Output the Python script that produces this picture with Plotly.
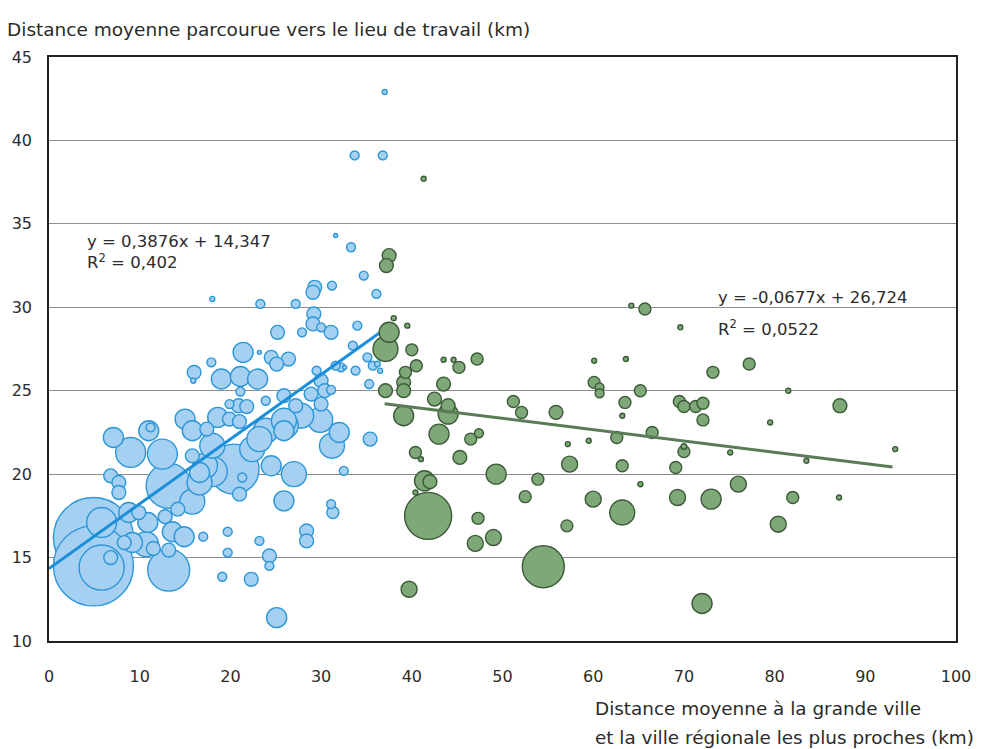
import plotly.graph_objects as go

# Communes reliées à une grande ville (bleu) : distance moyenne à la grande ville /
# ville régionale (km), distance moyenne domicile-travail (km), actifs (milliers)
blue_x = [37.0, 33.7, 36.8, 31.6, 33.3, 34.7, 31.2, 29.3, 29.1, 36.1, 18.0, 23.3, 27.2, 29.2, 29.1,
          34.0, 30.0, 25.2, 27.9, 31.1, 33.5, 21.4, 23.2, 24.5, 26.4, 25.1, 16.0, 15.9, 17.9, 19.0,
          21.1, 23.0, 21.1, 23.9, 20.9, 21.8, 19.9, 25.9, 27.2, 28.9, 30.0, 29.5, 31.1, 30.0, 32.2,
          33.8, 35.1, 35.7, 35.3, 35.4, 32.5, 31.1, 31.3, 28.4, 28.4, 25.9, 27.0, 24.5, 32.0, 31.2,
          29.9, 27.8, 26.1, 23.9, 22.4, 20.4, 17.2, 21.0, 21.3, 13.2, 12.5, 9.0, 7.1, 11.0, 11.2,
          15.0, 15.8, 17.4, 18.6, 19.9, 15.8, 15.8, 14.2, 18.0, 16.6, 6.8, 7.7, 7.7, 8.8, 9.9,
          10.9, 12.8, 13.6, 14.9, 10.7, 9.2, 8.3, 11.5, 13.2, 13.2, 17.0, 19.7, 19.7, 19.1, 22.3,
          23.2, 24.3, 24.3, 25.1, 5.8, 5.8, 6.8, 4.9, 4.9, 21.0, 25.9, 23.2, 25.9, 16.6, 18.0,
          30.4, 32.6, 36.2, 36.5, 31.6]
blue_y = [42.9, 39.1, 39.1, 34.3, 33.6, 31.9, 31.3, 31.2, 30.9, 30.8, 30.5, 30.2, 30.2, 29.6, 29.0,
          28.9, 28.8, 28.5, 28.5, 28.5, 27.7, 27.3, 27.3, 27.0, 26.9, 26.6, 26.1, 25.6, 26.7, 25.7,
          25.85, 25.7, 24.95, 24.4, 24.1, 24.05, 24.2, 24.7, 24.1, 24.8, 25.6, 26.2, 25.05, 24.2, 26.4,
          26.2, 27.0, 26.5, 25.4, 22.1, 20.2, 18.2, 17.7, 16.6, 16.0, 18.4, 20.0, 20.5, 22.5, 21.7,
          23.25, 23.5, 22.9, 22.6, 21.5, 20.3, 20.5, 18.8, 19.8, 19.3, 21.2, 21.3, 22.2, 22.6, 22.8,
          23.3, 22.6, 22.7, 23.4, 23.3, 21.1, 18.35, 17.9, 20.15, 19.5, 19.9, 19.5, 18.9, 17.7, 17.7,
          17.1, 17.45, 16.55, 16.25, 15.8, 15.9, 15.9, 15.55, 15.45, 14.25, 16.25, 16.55, 15.3, 13.85, 13.7,
          16.0, 15.1, 14.5, 11.4, 17.1, 14.4, 15.0, 16.2, 14.5, 23.15, 23.2, 22.1, 22.6, 20.1, 21.7,
          25.0, 26.4, 26.6, 26.2, 26.5]
blue_actifs = [1.6, 5, 5, 1, 5, 5, 5, 12, 12, 5, 1.6, 5, 5, 12, 12,
               5, 5, 12, 5, 12, 5, 25, 1, 12, 12, 12, 12, 1.6, 5, 25,
               25, 25, 5, 5, 12, 12, 5, 12, 12, 12, 12, 5, 5, 12, 5,
               5, 5, 5, 5, 12, 5, 5, 9, 12, 12, 25, 39, 25, 25, 39,
               39, 39, 39, 39, 39, 156, 39, 12, 5, 127, 56, 56, 25, 25, 5,
               25, 25, 12, 25, 12, 12, 39, 12, 56, 39, 12, 12, 12, 25, 12,
               25, 12, 25, 25, 39, 25, 12, 12, 12, 110, 5, 5, 5, 5, 12,
               5, 12, 5, 25, 56, 127, 12, 400, 400, 12, 39, 39, 25, 25, 39,
               12, 1, 2, 1.6, 5]

# Communes reliées à une ville régionale (vert)
green_x = [37.5, 37.2, 38.0, 39.5, 37.5, 37.1, 40.0, 40.5, 39.3, 39.1, 39.1, 37.1, 43.5, 44.6, 45.2,
           47.2, 43.5, 42.5, 39.1, 44.0, 44.0, 43.0, 51.2, 52.1, 55.9, 60.1, 63.6, 60.1, 60.7, 60.7,
           65.2, 63.5, 63.2, 66.5, 62.6, 57.2, 59.5, 46.5, 47.4, 40.4, 41.0, 45.3, 49.3, 57.4, 63.2,
           41.4, 42.0, 53.9, 65.2, 40.4, 41.8, 52.5, 60.0, 63.2, 47.3, 57.1, 49.0, 47.0, 54.5, 39.7,
           64.2, 65.7, 69.6, 73.2, 77.2, 69.5, 70.0, 71.3, 72.1, 72.1, 70.0, 70.0, 75.1, 69.1, 76.0,
           69.3, 73.0, 81.5, 87.2, 79.5, 83.5, 93.3, 82.0, 87.1, 80.4, 72.0, 41.3]
green_y = [33.1, 32.5, 29.35, 28.9, 28.5, 27.5, 27.45, 26.5, 26.1, 25.5, 25.0, 25.0, 26.85, 26.85, 26.4,
           26.9, 25.4, 24.5, 23.5, 23.6, 24.1, 22.4, 24.35, 23.7, 23.7, 26.8, 26.9, 25.5, 25.2, 24.85,
           25.0, 24.3, 23.5, 22.5, 22.2, 21.8, 22.0, 22.1, 22.45, 21.3, 20.9, 21.0, 20.0, 20.6, 20.5,
           19.6, 19.55, 19.7, 19.4, 18.9, 17.5, 18.65, 18.5, 17.7, 17.35, 16.9, 16.2, 15.85, 14.45, 13.1,
           30.1, 29.9, 28.8, 26.1, 26.6, 24.35, 24.05, 24.05, 24.25, 23.25, 21.35, 21.65, 21.3, 20.4, 19.4,
           18.6, 18.5, 25.0, 24.1, 23.1, 20.8, 21.5, 18.6, 18.6, 17.0, 12.25, 37.7]
green_actifs = [12, 12, 1.6, 1.6, 25, 39, 9, 9, 9, 12, 12, 12, 1.6, 1.6, 9,
                9, 12, 12, 25, 25, 12, 25, 9, 9, 12, 1.6, 1.6, 9, 5, 5,
                9, 9, 1.6, 9, 9, 1.6, 1.6, 9, 5, 9, 1.6, 12, 25, 16, 9,
                25, 12, 9, 1.6, 1.6, 138, 9, 16, 39, 9, 9, 16, 16, 110, 16,
                1.6, 9, 1.6, 9, 9, 9, 9, 9, 9, 9, 9, 2, 1.6, 9, 16,
                16, 25, 1.6, 12, 1.6, 1.6, 1.6, 9, 1.6, 16, 25, 1.6]

# Droites de régression (pente, ordonnée à l'origine, R²) et leur étendue en x
blue_fit = (0.3876, 14.347, 0.402)
green_fit = (-0.0677, 26.724, 0.0522)
blue_fit_x = [0, 36.5]
green_fit_x = [37.0, 93.0]

x_ticks = [0, 10, 20, 30, 40, 50, 60, 70, 80, 90, 100]
y_ticks = [10, 15, 20, 25, 30, 35, 40, 45]

FONT = "DejaVu Sans"
TXT = "#2b2b2b"
SIZEREF = 0.125


def by_size(xs, ys, ws):
    # larger bubbles first so the small ones stay visible on top
    order = sorted(range(len(ws)), key=lambda i: -ws[i])
    return [xs[i] for i in order], [ys[i] for i in order], [ws[i] for i in order]


def fmt(v):
    return f"{v}".replace(".", ",")


bx, by, bw = by_size(blue_x, blue_y, blue_actifs)
gx, gy, gw = by_size(green_x, green_y, green_actifs)

fig = go.Figure()

fig.add_trace(go.Scatter(
    x=bx, y=by, mode="markers",
    marker=dict(size=bw, sizemode="area", sizeref=SIZEREF,
                color="#a6d0f1", line=dict(color="#2b97d8", width=1.4), opacity=1),
    showlegend=False, hoverinfo="x+y"))

fig.add_trace(go.Scatter(
    x=blue_fit_x, y=[blue_fit[0] * v + blue_fit[1] for v in blue_fit_x],
    mode="lines", line=dict(color="#1b8fd9", width=3), showlegend=False))

fig.add_trace(go.Scatter(
    x=gx, y=gy, mode="markers",
    marker=dict(size=gw, sizemode="area", sizeref=SIZEREF,
                color="#7fa878", line=dict(color="#3b5a38", width=1.4), opacity=1),
    showlegend=False, hoverinfo="x+y"))

fig.add_trace(go.Scatter(
    x=green_fit_x, y=[green_fit[0] * v + green_fit[1] for v in green_fit_x],
    mode="lines", line=dict(color="#5b7a58", width=3), showlegend=False))

ann_font = dict(family=FONT, size=16.5, color=TXT)
annotations = [
    dict(x=4.0, y=33.3, xref="x", yref="y", xanchor="left", yanchor="middle", align="left",
         showarrow=False,
         text=(f"y = {fmt(blue_fit[0])}x + {fmt(blue_fit[1])}<br>"
               f"R<sup>2</sup> = {fmt(blue_fit[2])}"),
         font=ann_font),
    dict(x=73.5, y=30.6, xref="x", yref="y", xanchor="left", yanchor="middle",
         showarrow=False, text=f"y = {fmt(green_fit[0])}x + {fmt(green_fit[1])}",
         font=ann_font),
    dict(x=73.5, y=28.75, xref="x", yref="y", xanchor="left", yanchor="middle",
         showarrow=False, text=f"R<sup>2</sup> = {fmt(green_fit[2])}",
         font=ann_font),
    dict(x=-0.048, y=1.047, xref="paper", yref="paper", xanchor="left", yanchor="middle",
         showarrow=False, text="Distance moyenne parcourue vers le lieu de travail (km)",
         font=dict(family=FONT, size=18.5, color=TXT)),
    dict(x=0.6, y=-0.115, xref="paper", yref="paper", xanchor="left", yanchor="middle",
         showarrow=False, text="Distance moyenne à la grande ville",
         font=dict(family=FONT, size=18.4, color=TXT)),
    dict(x=0.6, y=-0.165, xref="paper", yref="paper", xanchor="left", yanchor="middle",
         showarrow=False, text="et la ville régionale les plus proches (km)",
         font=dict(family=FONT, size=18.4, color=TXT)),
]

fig.update_layout(
    width=983, height=749,
    margin=dict(l=47, r=17, t=57, b=108),
    paper_bgcolor="white", plot_bgcolor="white",
    font=dict(family=FONT, color=TXT),
    annotations=annotations,
    xaxis=dict(range=[0, 100], tickvals=x_ticks, ticktext=[str(v) for v in x_ticks],
               showgrid=False, zeroline=False, showline=True, linecolor="#222222",
               linewidth=1.5, mirror=True, ticks="", ticklabelstandoff=20,
               tickfont=dict(family=FONT, size=16, color=TXT)),
    yaxis=dict(range=[10, 45], tickvals=y_ticks, ticktext=[str(v) for v in y_ticks],
               showgrid=True, gridcolor="#8c8c8c", gridwidth=1, zeroline=False,
               showline=True, linecolor="#222222", linewidth=1.5, mirror=True,
               ticks="", ticklabelstandoff=12,
               tickfont=dict(family=FONT, size=16, color=TXT)),
)

fig.write_html("out.html")
